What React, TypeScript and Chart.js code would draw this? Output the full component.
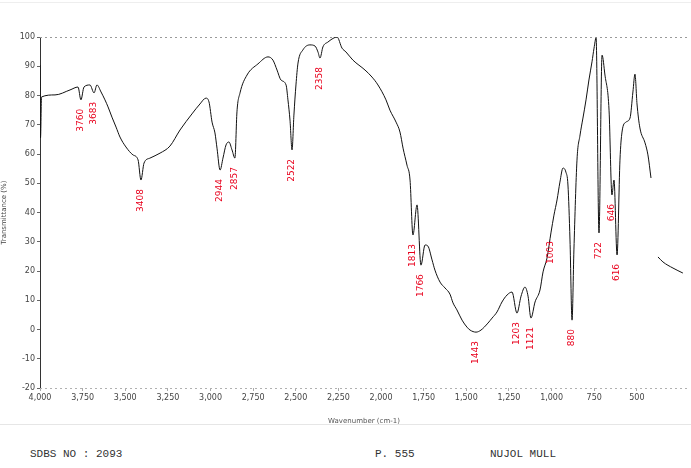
import React, { useEffect, useRef } from "react";
import { Chart, registerables } from "chart.js";

Chart.register(...registerables);

// wavenumber (cm-1) and transmittance (%)
const wavenumbers: number[] = [
  4000, 3997, 3991, 3912, 3824, 3777, 3760, 3742, 3707, 3683, 3666, 3642, 3619, 3601, 3578, 3554,
  3531, 3496, 3455, 3425, 3408, 3390, 3355, 3296, 3238, 3179, 3109, 3062, 3027, 3009, 2991, 2974,
  2962, 2944, 2927, 2909, 2892, 2874, 2857, 2845, 2827, 2786, 2722, 2663, 2634, 2610, 2587, 2557,
  2546, 2534, 2522, 2511, 2499, 2487, 2458, 2417, 2387, 2370, 2358, 2341, 2311, 2276, 2258, 2229,
  2206, 2165, 2094, 2053, 2018, 1971, 1948, 1912, 1889, 1871, 1848, 1830, 1813, 1789, 1766, 1742,
  1725, 1701, 1684, 1654, 1625, 1596, 1578, 1555, 1525, 1496, 1478, 1443, 1414, 1373, 1349, 1320,
  1291, 1261, 1232, 1203, 1179, 1156, 1138, 1121, 1097, 1068, 1050, 1027, 1003, 986, 968, 951,
  933, 916, 904, 892, 880, 869, 851, 833, 816, 798, 781, 763, 751, 739, 722, 704, 687, 663, 646,
  634, 616, 599, 587, 564, 540, 523, 511, 499, 482, 452, 435, 417, 395, 376, 347, 288, 230,
];
const transmittance: (number | null)[] = [
  90.4, 65.5, 79.5, 80.2, 81.9, 82.9, 78.5, 82.9, 83.6, 80.9, 83.6, 81.2, 78.5, 76.1, 72.6, 69.2,
  65.8, 62.4, 59.7, 58.0, 51.1, 56.9, 58.6, 60.3, 62.7, 68.2, 73.7, 77.1, 79.1, 77.8, 70.9, 67.2,
  62.0, 54.5, 58.6, 63.1, 64.1, 61.4, 58.6, 74.4, 80.9, 87.0, 90.8, 93.2, 92.1, 88.7, 85.3, 83.6,
  78.5, 71.6, 61.4, 73.3, 83.6, 91.1, 95.6, 97.3, 96.9, 94.9, 92.8, 96.6, 98.3, 99.7, 100, 96.2,
  94.9, 92.1, 88.7, 86.3, 83.6, 78.5, 75.0, 70.9, 67.5, 62.0, 56.2, 51.1, 32.3, 42.6, 22.0, 28.9,
  28.5, 23.8, 20.3, 16.2, 14.2, 12.1, 9.1, 6.7, 3.2, 0.8, -0.2, -0.9, -0.2, 2.2, 3.9, 6.0,
  9.4, 11.8, 12.8, 5.6, 11.4, 14.5, 11.4, 3.9, 9.4, 13.5, 19.7, 24.4, 33.3, 39.1, 44.3, 50.4,
  55.2, 53.8, 49.4, 30.6, 3.2, 27.2, 57.9, 66.5, 72.3, 78.5, 85.3, 91.5, 96.2, 99.7, 33.0, 93.8, 87.0, 75.0, 46.0,
  51.1, 25.5, 57.9, 67.5, 70.9, 72.3, 81.2, 87.3, 77.1, 68.9, 63.8, 59.7, 51.8, null, 24.8, 23.1, 21.0, 19.3,
];
// labelled peaks (wavenumbers)
const peakLabels: number[] = [
  3760, 3683, 3408, 2944, 2857, 2522, 2358, 1813, 1766, 1443, 1203, 1121, 1003, 880, 722, 646, 616,
];
const xTickValues: number[] = [
  4000, 3750, 3500, 3250, 3000, 2750, 2500, 2250, 2000, 1750, 1500, 1250, 1000, 750, 500,
];
const footerTexts: string[] = ["SDBS NO : 2093", "P. 555", "NUJOL MULL"];

const decoPlugin = {
  id: "deco",
  beforeDatasetsDraw(chart: any) {
    const { ctx, chartArea, scales } = chart;
    const yTop = scales.y.getPixelForValue(100);
    ctx.save();
    ctx.strokeStyle = "#9a9a9a";
    ctx.lineWidth = 1;
    ctx.setLineDash([2, 3]);
    ctx.beginPath();
    ctx.moveTo(chartArea.left, Math.round(yTop) + 0.5);
    ctx.lineTo(chartArea.right, Math.round(yTop) + 0.5);
    ctx.stroke();
    ctx.strokeStyle = "#b0b0b0";
    ctx.beginPath();
    ctx.moveTo(chartArea.left, Math.round(chartArea.bottom) + 0.5);
    ctx.lineTo(chartArea.right, Math.round(chartArea.bottom) + 0.5);
    ctx.stroke();
    ctx.restore();
  },
  afterDatasetsDraw(chart: any) {
    const { ctx, scales } = chart;
    ctx.save();
    ctx.fillStyle = "#e8001c";
    ctx.font = "9px 'DejaVu Sans', sans-serif";
    ctx.textAlign = "right";
    ctx.textBaseline = "middle";
    peakLabels.forEach((wn) => {
      const i = wavenumbers.indexOf(wn);
      const v = transmittance[i];
      if (i < 0 || v === null) return;
      const px = scales.x.getPixelForValue(wn);
      const py = scales.y.getPixelForValue(v);
      ctx.save();
      ctx.translate(px, py + 9);
      ctx.rotate(-Math.PI / 2);
      ctx.fillText(String(wn), 0, 0);
      ctx.restore();
    });
    ctx.restore();
  },
};

export default function App() {
  const ref = useRef<HTMLCanvasElement | null>(null);
  useEffect(() => {
    if (!ref.current) return;
    const chart = new Chart(ref.current, {
      type: "line",
      data: {
        datasets: [
          {
            data: wavenumbers.map((w, i) => ({ x: w, y: transmittance[i] })) as any,
            borderColor: "#111",
            borderWidth: 1,
            pointRadius: 0,
            cubicInterpolationMode: "monotone",
            spanGaps: false,
          },
        ],
      },
      options: {
        animation: false,
        responsive: false,
        layout: { padding: { top: 37, right: 3, left: 0, bottom: 0 } },
        plugins: { legend: { display: false }, tooltip: { enabled: false } },
        scales: {
          x: {
            type: "linear",
            reverse: true,
            min: 200,
            max: 4000,
            afterBuildTicks: (s: any) => {
              s.ticks = xTickValues.map((v) => ({ value: v }));
            },
            afterFit: (s: any) => {
              s.height = 37;
            },
            grid: { drawOnChartArea: false, tickLength: 3, color: "#aaa" },
            border: { display: false },
            ticks: { font: { size: 8, family: "DejaVu Sans" }, color: "#444", padding: 2, maxRotation: 0, autoSkip: false },
            title: { display: true, text: "Wavenumber (cm-1)", font: { size: 7, family: "DejaVu Sans" }, color: "#555", padding: { top: 0, bottom: 0 } },
          },
          y: {
            min: -20,
            max: 100,
            ticks: { stepSize: 10, font: { size: 8, family: "DejaVu Sans" }, color: "#444", padding: 2 },
            afterFit: (s: any) => {
              s.width = 40;
            },
            grid: { drawOnChartArea: false, tickLength: 3, color: "#666" },
            border: { display: true, color: "#333" },
            title: { display: true, text: "Transmittance (%)", font: { size: 7, family: "DejaVu Sans" }, color: "#444", padding: 0 },
          },
        },
      },
      plugins: [decoPlugin],
    });
    return () => chart.destroy();
  }, []);

  const footerLeft = [30, 375, 490];
  return (
    <div style={{ position: "absolute", left: 0, top: 0, width: 691, height: 468, background: "#fff" }}>
      <div style={{ position: "absolute", left: 0, top: 2, width: 691, height: 0, borderTop: "1px solid #eee" }} />
      <canvas ref={ref} width={691} height={425} style={{ position: "absolute", left: 0, top: 0 }} />
      <div style={{ position: "absolute", left: 0, top: 424, width: 691, height: 0, borderTop: "1px solid #e6e6e6" }} />
      {footerTexts.map((t, i) => (
        <div
          key={i}
          style={{
            position: "absolute",
            left: footerLeft[i],
            top: 448,
            font: "11px 'Liberation Mono', monospace",
            color: "#333",
            whiteSpace: "pre",
          }}
        >
          {t}
        </div>
      ))}
    </div>
  );
}
